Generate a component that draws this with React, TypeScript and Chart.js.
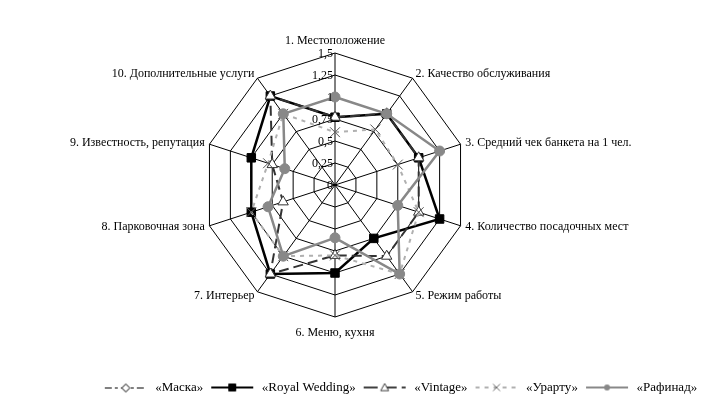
import React, { useEffect, useRef } from "react";
import { Chart, registerables } from "chart.js";

Chart.register(...registerables);

const FONT = "'Liberation Serif', 'Times New Roman', serif";

const categories = [
  "1. Местоположение",
  "2. Качество обслуживания",
  "3. Средний чек банкета на 1 чел.",
  "4. Количество посадочных мест",
  "5. Режим работы",
  "6. Меню, кухня",
  "7. Интерьер",
  "8. Парковочная зона",
  "9. Известность, репутация",
  "10. Дополнительные услуги",
];

const seriesNames = ["«Маска»", "«Royal Wedding»", "«Vintage»", "«Урарту»", "«Рафинад»"];

const maska = [0.77, 1.0, 1.0, 1.25, 0.75, 1.0, 1.25, 1.0, 1.0, 1.25];
const royalWedding = [0.77, 1.0, 1.0, 1.25, 0.75, 1.0, 1.25, 1.0, 1.0, 1.25];
const vintage = [0.77, 1.0, 1.0, 1.0, 1.0, 0.8, 1.25, 0.62, 0.75, 1.25];
const urartu = [0.6, 0.78, 0.75, 1.0, 1.25, 0.8, 1.0, 1.0, 0.8, 1.0];
const rafinad = [1.0, 1.0, 1.25, 0.75, 1.25, 0.6, 1.0, 0.8, 0.6, 1.0];

const tickLabels = ["0", "0,25", "0,5", "0,75", "1", "1,25", "1,5"];

const ICON_W = 46;

type IconSpec = {
  color: string;
  width: number;
  dash: number[];
  marker: "rectRot" | "rect" | "triangle" | "crossRot" | "circle";
  fill: string;
  stroke: string;
  size: number;
};

function makeIcon(spec: IconSpec): HTMLCanvasElement {
  const c = document.createElement("canvas");
  c.width = ICON_W;
  c.height = 12;
  const ctx = c.getContext("2d")!;
  const cy = spec.width % 2 === 1 ? 6.5 : 6;
  ctx.strokeStyle = spec.color;
  ctx.lineWidth = spec.width;
  ctx.setLineDash(spec.dash);
  ctx.beginPath();
  ctx.moveTo(2, cy);
  ctx.lineTo(ICON_W - 2, cy);
  ctx.stroke();
  ctx.setLineDash([]);
  const cx = ICON_W / 2;
  const s = spec.size;
  ctx.lineWidth = 1;
  ctx.fillStyle = spec.fill;
  ctx.strokeStyle = spec.stroke;
  ctx.beginPath();
  if (spec.marker === "rectRot") {
    ctx.moveTo(cx, cy - s);
    ctx.lineTo(cx + s, cy);
    ctx.lineTo(cx, cy + s);
    ctx.lineTo(cx - s, cy);
    ctx.closePath();
    ctx.fill();
    ctx.stroke();
  } else if (spec.marker === "rect") {
    ctx.rect(cx - s, cy - s, 2 * s, 2 * s);
    ctx.fill();
    ctx.stroke();
  } else if (spec.marker === "triangle") {
    ctx.moveTo(cx, cy - s);
    ctx.lineTo(cx + s, cy + s * 0.8);
    ctx.lineTo(cx - s, cy + s * 0.8);
    ctx.closePath();
    ctx.fill();
    ctx.stroke();
  } else if (spec.marker === "crossRot") {
    ctx.moveTo(cx - s, cy - s);
    ctx.lineTo(cx + s, cy + s);
    ctx.moveTo(cx + s, cy - s);
    ctx.lineTo(cx - s, cy + s);
    ctx.stroke();
  } else {
    ctx.arc(cx, cy, s, 0, Math.PI * 2);
    ctx.fill();
  }
  return c;
}

const radarText = {
  id: "radarText",
  afterDraw(chart: any) {
    const scale = chart.scales.r;
    const ctx = chart.ctx as CanvasRenderingContext2D;
    ctx.save();
    ctx.font = `12px ${FONT}`;
    ctx.fillStyle = "#000";
    ctx.textAlign = "right";
    ctx.textBaseline = "middle";
    scale.ticks.forEach((t: any, i: number) => {
      const d = scale.getDistanceFromCenterForValue(t.value);
      const label = tickLabels[i] ?? String(t.label);
      ctx.fillText(label, scale.xCenter - 2, scale.yCenter - d + 1);
    });
    const labels = chart.data.labels as string[];
    const n = labels.length;
    for (let i = 0; i < n; i++) {
      const p = scale.getPointPosition(i, scale.drawingArea + 5);
      const deg = Math.round((i * 360) / n);
      let align: CanvasTextAlign = "left";
      let y = p.y;
      if (deg === 0) {
        align = "center";
        y = p.y - 7;
      } else if (deg === 180) {
        align = "center";
        y = p.y + 11;
      } else if (deg < 180) {
        align = "left";
      } else {
        align = "right";
      }
      ctx.textAlign = align;
      ctx.fillText(labels[i], p.x, y);
    }
    ctx.restore();
  },
};

export default function App() {
  const ref = useRef<HTMLCanvasElement | null>(null);

  useEffect(() => {
    if (!ref.current) return;
    const specs: IconSpec[] = [
      { color: "#000", width: 1, dash: [7, 3, 3, 3], marker: "rectRot", fill: "#fff", stroke: "#000", size: 4 },
      { color: "#000", width: 2, dash: [], marker: "rect", fill: "#000", stroke: "#000", size: 3.5 },
      { color: "#404040", width: 2, dash: [14, 5], marker: "triangle", fill: "#fff", stroke: "#404040", size: 4 },
      { color: "#b0b0b0", width: 2, dash: [4, 5], marker: "crossRot", fill: "#fff", stroke: "#707070", size: 3.5 },
      { color: "#888", width: 2, dash: [], marker: "circle", fill: "#888", stroke: "#888", size: 3 },
    ];
    const icons = specs.map(makeIcon);

    const chart = new Chart(ref.current, {
      type: "radar",
      data: {
        labels: categories,
        datasets: [
          {
            label: seriesNames[0],
            data: maska,
            borderColor: "#000",
            borderWidth: 1,
            borderDash: [6, 2, 2, 2],
            pointStyle: "rectRot",
            pointRadius: 4,
            pointBackgroundColor: "#fff",
            pointBorderColor: "#000",
            pointBorderWidth: 1,
            fill: false,
            order: 5,
          },
          {
            label: seriesNames[1],
            data: royalWedding,
            borderColor: "#000",
            borderWidth: 2.5,
            pointStyle: "rect",
            pointRadius: 6,
            pointBackgroundColor: "#000",
            pointBorderColor: "#000",
            pointBorderWidth: 1,
            fill: false,
            order: 4,
          },
          {
            label: seriesNames[2],
            data: vintage,
            borderColor: "#333",
            borderWidth: 2,
            borderDash: [10, 5],
            pointStyle: "triangle",
            pointRadius: 6,
            pointBackgroundColor: "#fff",
            pointBorderColor: "#333",
            pointBorderWidth: 1,
            fill: false,
            order: 3,
          },
          {
            label: seriesNames[3],
            data: urartu,
            borderColor: "#b0b0b0",
            borderWidth: 2,
            borderDash: [4, 5],
            pointStyle: "crossRot",
            pointRadius: 7,
            pointBackgroundColor: "#fff",
            pointBorderColor: "#555",
            pointBorderWidth: 1,
            fill: false,
            order: 2,
          },
          {
            label: seriesNames[4],
            data: rafinad,
            borderColor: "#888",
            borderWidth: 2.5,
            pointStyle: "circle",
            pointRadius: 5,
            pointBackgroundColor: "#888",
            pointBorderColor: "#888",
            pointBorderWidth: 1,
            fill: false,
            order: 1,
          },
        ],
      },
      options: {
        responsive: false,
        animation: false,
        events: [],
        layout: { padding: { bottom: 15, left: 90 } },
        elements: { line: { tension: 0 } },
        scales: {
          r: {
            min: 0,
            max: 1.5,
            ticks: {
              stepSize: 0.25,
              display: false,
              callback: (_v: any, i: number) => tickLabels[i],
            },
            grid: { color: "#000", lineWidth: 1 },
            angleLines: { color: "#000", lineWidth: 1 },
            pointLabels: { display: false },
            afterFit: (scale: any) => {
              scale.xCenter = 335;
              scale.yCenter = 185;
              scale.drawingArea = 132;
            },
          } as any,
        },
        plugins: {
          tooltip: { enabled: false },
          legend: {
            position: "bottom",
            align: "center",
            labels: {
              usePointStyle: true,
              pointStyleWidth: ICON_W,
              boxHeight: 12,
              padding: 6,
              color: "#000",
              font: { family: FONT, size: 13 },
              generateLabels: (ch: any) =>
                ch.data.datasets.map((ds: any, i: number) => ({
                  text: ds.label,
                  pointStyle: icons[i],
                  datasetIndex: i,
                  hidden: false,
                  lineWidth: 0,
                  fillStyle: "transparent",
                  strokeStyle: "transparent",
                  fontColor: "#000",
                })),
            },
          },
        },
      },
      plugins: [radarText],
    });
    return () => chart.destroy();
  }, []);

  return (
    <div style={{ position: "absolute", left: 0, top: 0, width: 710, height: 419, background: "#fff" }}>
      <canvas ref={ref} width={710} height={419} style={{ display: "block" }} />
    </div>
  );
}
